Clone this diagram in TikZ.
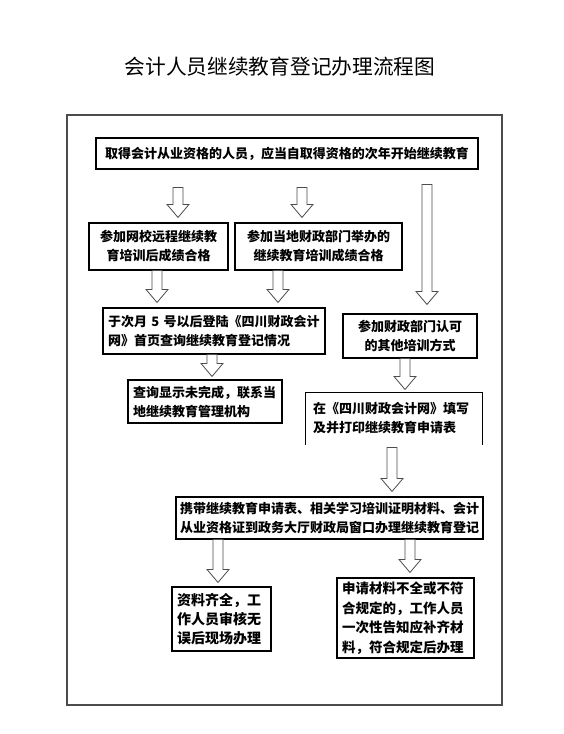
\documentclass[tikz,border=0pt]{standalone}
\usepackage{fontspec}
\setmainfont{Noto Sans CJK SC}
\usetikzlibrary{calc}
\newcommand{\blockarrow}[5]{%
\draw[block arrow] let \p1=(#2), \p2=(#3), \p3=(#1,0) in
(\x3-5pt,\y1-#4) -- (\x3+5pt,\y1-#4) -- (\x3+5pt,\y2+#5+13pt) -- (\x3+11pt,\y2+#5+13pt)
-- (\x3,\y2+#5) -- (\x3-11pt,\y2+#5+13pt) -- (\x3-5pt,\y2+#5+13pt) -- cycle;}

\begin{document}
\begin{tikzpicture}[x=1pt,y=-1pt,
box node/.style={draw,line width=1.1pt,inner xsep=5pt,inner ysep=0pt,
font=\bfseries\fontsize{13}{19}\selectfont},
open node/.style={box node,draw=none},
block arrow/.style={draw=black!70,line width=0.8pt,fill=white},
frame line/.style={draw=black!70,line width=1.2pt}]
\useasboundingbox (0,0) rectangle (564,734);

\node[font=\fontsize{20.7}{24}\selectfont] (title) at (280,67) {会计人员继续教育登记办理流程图};
\draw[frame line] (67,115) rectangle (502,705);

\node[box node,minimum width=382pt,minimum height=31pt] (top) at (287,153.5)
{取得会计从业资格的人员，应当自取得资格的次年开始继续教育};
\node[box node,minimum width=139pt,minimum height=47pt,text width=129pt,align=center] (b2) at (158.5,246.5)
{参加网校远程继续教\\育培训后成绩合格};
\node[box node,minimum width=167pt,minimum height=47pt,text width=157pt,align=center] (b3) at (318.5,246.5)
{参加当地财政部门举办的\\继续教育培训成绩合格};
\node[box node,minimum width=222pt,minimum height=46pt,text width=212pt,align=left] (b4) at (214,331)
{于次月 5 号以后登陆《四川财政会计\\网》首页查询继续教育登记情况};
\node[box node,minimum width=134pt,minimum height=44pt,text width=124pt,align=center] (b5) at (410,336)
{参加财政部门认可\\的其他培训方式};
\node[box node,minimum width=154pt,minimum height=43pt,text width=144pt,align=left] (b6) at (205,401.5)
{查询显示未完成，联系当\\地继续教育管理机构};
\node[open node,minimum width=176pt,minimum height=51pt,text width=162pt,inner xsep=7pt,align=left] (b7) at (394,418.5)
{在《四川财政会计网》填写\\及并打印继续教育申请表};
\draw[line width=1.1pt] (b7.south west) -- (b7.north west) -- (b7.north east) -- (b7.south east);
\node[box node,minimum width=307pt,minimum height=42pt,text width=301pt,inner xsep=3pt,align=center] (b8) at (329.5,518)
{携带继续教育申请表、相关学习培训证明材料、会计\\从业资格证到政务大厅财政局窗口办理继续教育登记};
\node[box node,minimum width=99pt,minimum height=64pt,text width=89pt,align=left,
font=\bfseries\fontsize{14}{19}\selectfont] (b9) at (221.5,619)
{资料齐全，工\\作人员审核无\\误后现场办理};
\node[box node,minimum width=137pt,minimum height=80pt,text width=127pt,align=left,
font=\bfseries\fontsize{13.5}{19.5}\selectfont] (b10) at (405.5,618)
{申请材料不全或不符\\合规定的，工作人员\\一次性告知应补齐材\\料，符合规定后办理};

\blockarrow{178}{top.south}{b2.north}{18pt}{5pt}
\blockarrow{302}{top.south}{b3.north}{18pt}{5pt}
\blockarrow{427}{top.south}{b5.north}{15pt}{9pt}
\blockarrow{157}{b2.south}{b4.north}{0pt}{5pt}
\blockarrow{278}{b3.south}{b4.north}{0pt}{5pt}
\blockarrow{212}{b4.south}{b6.north}{0pt}{3pt}
\blockarrow{405}{b5.south}{b7.north}{0pt}{3pt}
\blockarrow{392}{b7.south}{b8.north}{3pt}{5pt}
\blockarrow{218}{b8.south}{b9.north}{0pt}{4pt}
\blockarrow{410}{b8.south}{b10.north}{0pt}{5pt}
\end{tikzpicture}
\end{document}
